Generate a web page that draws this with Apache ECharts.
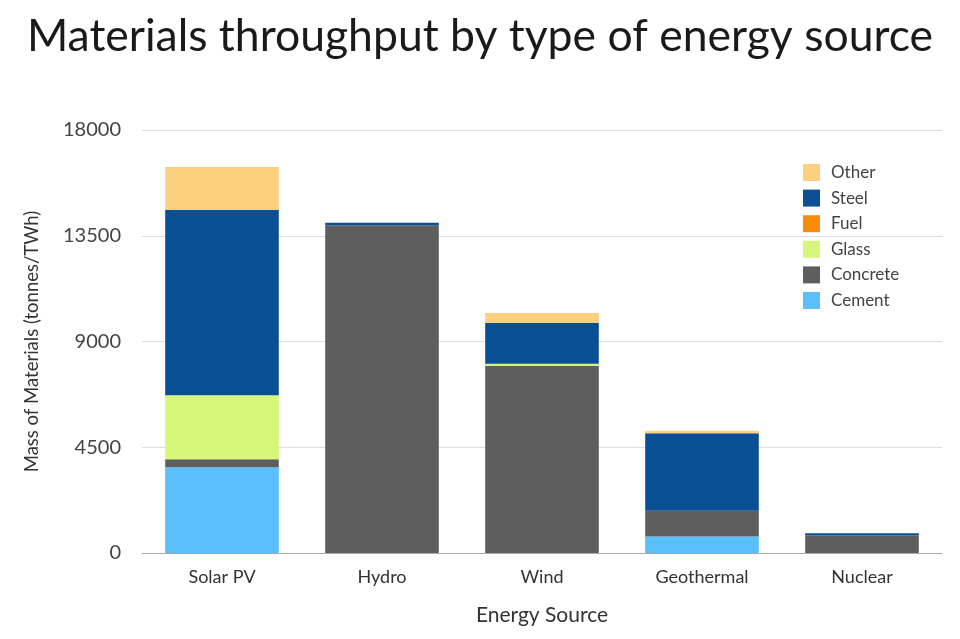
<!DOCTYPE html>
<html><head><meta charset="utf-8">
<script src="https://cdn.jsdelivr.net/npm/echarts@6/dist/echarts.min.js"></script>
<style>html,body{margin:0;padding:0;background:#fff}#c{width:960px;height:639px}</style>
</head><body><div id="c"></div>
<script>
const categories = ["Solar PV", "Hydro", "Wind", "Geothermal", "Nuclear"];
const cement   = [3650, 0, 0, 700, 0];
const concrete = [340, 13950, 7970, 1100, 740];
const glass    = [2720, 0, 80, 0, 0];
const fuel     = [0, 0, 0, 0, 0];
const steel    = [7900, 100, 1750, 3300, 100];
const other    = [1820, 0, 410, 100, 0];
const yTicks   = [0, 4500, 9000, 13500, 18000];

const font = 'Lato, "Open Sans", sans-serif';
const chart = echarts.init(document.getElementById('c'));
const mk = (name, data, color) => ({
  name, type: 'bar', stack: 'total', data, barWidth: '71%',
  itemStyle: { color }, emphasis: { disabled: true }
});
chart.setOption({
  animation: false,
  title: {
    text: 'Materials throughput by type of energy source',
    left: 'center', top: 9,
    textStyle: { fontFamily: font, fontSize: 44.5, fontWeight: 'normal', color: '#1a1a1a' }
  },
  legend: {
    orient: 'vertical', left: 803, top: 164, itemGap: 8.6, itemWidth: 17, itemHeight: 17,
    icon: 'rect', padding: 0,
    textStyle: { fontFamily: font, fontSize: 17, color: '#444', padding: [0, 0, 0, 6] },
    data: ['Other', 'Steel', 'Fuel', 'Glass', 'Concrete', 'Cement']
  },
  grid: { left: 142, right: 18, top: 130, bottom: 86 },
  xAxis: {
    type: 'category', data: categories,
    name: 'Energy Source', nameLocation: 'middle', nameGap: 52,
    nameTextStyle: { fontFamily: font, fontSize: 21, color: '#333' },
    axisLine: { lineStyle: { color: '#aaa' } },
    axisTick: { show: false },
    axisLabel: { fontFamily: font, fontSize: 18, color: '#333', margin: 15 }
  },
  yAxis: {
    type: 'value', min: yTicks[0], max: yTicks[yTicks.length - 1], interval: yTicks[1] - yTicks[0],
    name: 'Mass of Materials (tonnes/TWh)', nameLocation: 'middle', nameGap: 100,
    nameTextStyle: { fontFamily: font, fontSize: 18.5, color: '#333' },
    axisLine: { show: false }, axisTick: { show: false },
    axisLabel: { fontFamily: font, fontSize: 20, color: '#444', margin: 21, formatter: v => String(v) },
    splitLine: { lineStyle: { color: '#ddd' } }
  },
  series: [
    mk('Cement', cement, '#5bbffc'),
    mk('Concrete', concrete, '#5e5e5e'),
    mk('Glass', glass, '#d6f77a'),
    mk('Fuel', fuel, '#fa8c0c'),
    mk('Steel', steel, '#0a4f93'),
    mk('Other', other, '#fdd07f')
  ]
});
</script></body></html>
